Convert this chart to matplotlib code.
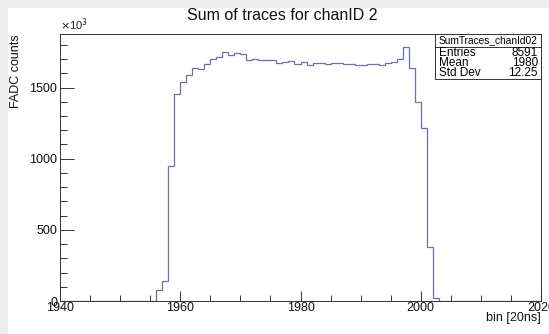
import matplotlib
matplotlib.use("Agg")
import matplotlib.pyplot as plt
from matplotlib.patches import Rectangle
from matplotlib.ticker import MultipleLocator

plt.rcParams['font.family'] = ['Liberation Sans', 'DejaVu Sans']

# Histogram data (counts in units of 10^3), bins of width 1 from 1940 to 2020
bin_low = 1940
bin_high = 2020
nonzero_start = 1956
counts_k = [80, 140, 950, 1457, 1539, 1586, 1638, 1627, 1669, 1704,
            1716, 1751, 1728, 1740, 1733, 1693, 1704, 1695, 1695, 1695,
            1674, 1681, 1686, 1669, 1681, 1662, 1674, 1676, 1669, 1674,
            1674, 1669, 1669, 1662, 1662, 1669, 1664, 1662, 1674, 1681,
            1699, 1787, 1638, 1398, 1214, 377, 23]

title = "Sum of traces for chanID 2"
stats_name = "SumTraces_chanId02"
stats_labels = ["Entries", "Mean", "Std Dev"]
stats_values = ["8591", "1980", "12.25"]

# full bin array
values = [0] * (nonzero_start - bin_low) + counts_k
values = values + [0] * ((bin_high - bin_low) - len(values))
edges = list(range(bin_low, bin_high + 1))

W, H = 549, 334
fig = plt.figure(figsize=(W / 100, H / 100), dpi=100)
fig.patch.set_facecolor('#eeeeee')
fig.patches.append(Rectangle((8 / W, 0), 1, 1 - 8 / H, transform=fig.transFigure,
                             facecolor='white', edgecolor='none', zorder=-10))

L, R, T, B = 60, 541, 34, 301
ax = fig.add_axes([L / W, 1 - B / H, (R - L) / W, (B - T) / H])
ax.stairs(values, edges, color='#6e6eb6', linewidth=0.9)
ax.set_xlim(bin_low, bin_high)
ax.set_ylim(0, 1.05 * max(counts_k))

for s in ax.spines.values():
    s.set_color('#333333')
    s.set_linewidth(0.7)

ax.xaxis.set_major_locator(MultipleLocator(20))
ax.xaxis.set_minor_locator(MultipleLocator(5))
ax.yaxis.set_major_locator(MultipleLocator(500))
ax.yaxis.set_minor_locator(MultipleLocator(100))
ax.tick_params(axis='both', which='both', direction='in', top=False, right=False,
               labelsize=9, colors='#333333', labelcolor='#111111', width=0.7)
ax.tick_params(axis='x', which='major', length=7, pad=1)
ax.tick_params(axis='x', which='minor', length=4)
ax.tick_params(axis='y', which='major', length=10, pad=2)
ax.tick_params(axis='y', which='minor', length=5)
for lbl in ax.get_xticklabels():
    lbl.set_clip_on(False)

ax.text(0.0, 1.005, r"$\times$10$^3$", transform=ax.transAxes, fontsize=8,
        ha='left', va='bottom', color='#222222')

fig.text(16 / W, 1 - T / H, "FADC counts", rotation=90, ha='center', va='top',
         fontsize=9, color='#111111')
fig.text(R / W, 1 - 318 / H, "bin [20ns]", ha='right', va='center',
         fontsize=9, color='#111111')
fig.text(282 / W, 1 - 16 / H, title, ha='center', va='center', fontsize=11.5,
         color='#111111')

# stats box
bx0, bx1 = 435, 541
by0, by1, byh = 34, 79, 47
fig.patches.append(Rectangle((bx0 / W, 1 - by1 / H), (bx1 - bx0) / W, (by1 - by0) / H,
                             transform=fig.transFigure, facecolor='white',
                             edgecolor='#333333', linewidth=0.7, zorder=5))
fig.add_artist(plt.Line2D([bx0 / W, bx1 / W], [1 - byh / H, 1 - byh / H],
                          transform=fig.transFigure, color='#333333', linewidth=0.7, zorder=6))
fig.text((bx0 + bx1) / 2 / W, 1 - 40.5 / H, stats_name, ha='center', va='center',
         fontsize=7.3, zorder=7)
for i, (lab, val) in enumerate(zip(stats_labels, stats_values)):
    yy = 1 - (52.5 + i * 10.5) / H
    fig.text((bx0 + 4) / W, yy, lab, ha='left', va='center', fontsize=8.5, zorder=7)
    fig.text((bx1 - 3) / W, yy, val, ha='right', va='center', fontsize=8.5, zorder=7)

fig.savefig("out.png", dpi=100)
